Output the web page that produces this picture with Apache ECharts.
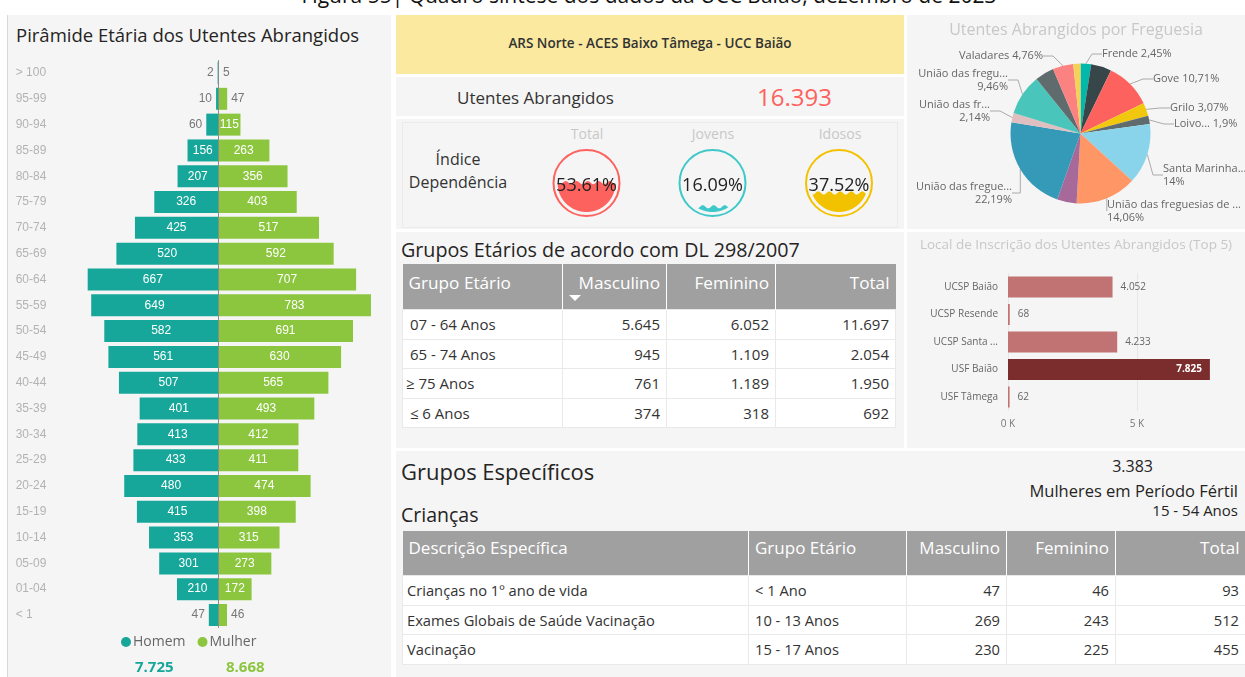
<!DOCTYPE html>
<html>
<head>
<meta charset="utf-8">
<script src="https://cdn.jsdelivr.net/npm/echarts@6/dist/echarts.min.js"></script>
<style>
body{margin:0;width:1245px;height:677px;position:relative;overflow:hidden;background:#fff;font-family:'Open Sans',sans-serif;color:#252423}
.p{position:absolute;background:#f5f5f5}
.t{position:absolute;white-space:nowrap}
.tbl{position:absolute;border-collapse:collapse;table-layout:fixed}
.tbl th{background:#a0a0a0;color:#fff;font-weight:normal;vertical-align:top;text-align:right;padding:0 6px;border-left:1px solid #fff;white-space:nowrap;overflow:hidden;position:relative}
.tbl th:first-child{text-align:left;border-left:none}
.tbl td{background:#fff;color:#333;padding:0 6px;text-align:right;border:1px solid #e9e9e9;white-space:pre;overflow:hidden}
.tbl td:first-child{text-align:left}
</style>
</head>
<body>
<!-- titulo da figura (cortado em cima) -->
<div class="t" style="left:0;width:1298px;text-align:center;top:-16px;font-size:21px;color:#111;line-height:22px">Figura 55| Quadro síntese dos dados da UCC Baião, dezembro de 2023</div>
<div style="position:absolute;left:7px;top:15px;width:1px;height:662px;background:#d8d8d8"></div>

<div class="p" style="left:8px;top:15px;width:383px;height:662px">
  <div class="t" style="left:8px;top:7px;font-size:18.5px;color:#252423">Pirâmide Etária dos Utentes Abrangidos</div>
  <div id="piramide" style="position:absolute;left:0;top:0;width:383px;height:662px"></div>
</div>

<div class="p" style="left:396px;top:15px;width:508px;height:59px;background:#fae99f">
  <div class="t" style="left:0;width:508px;text-align:center;top:19px;font-size:13.5px;font-weight:600;color:#333">ARS Norte - ACES Baixo Tâmega - UCC Baião</div>
</div>
<div class="p" style="left:396px;top:77px;width:508px;height:39px">
  <div class="t" style="left:61px;top:9px;font-size:17px;color:#333">Utentes Abrangidos</div>
  <div class="t" id="utentes" style="left:361px;top:3px;font-size:24px;color:#fd625e"></div>
</div>
<div class="p" style="left:396px;top:119px;width:508px;height:110px">
  <div style="position:absolute;left:6px;top:3px;width:494px;height:104px;border:1px solid #ebebeb"></div>
  <div class="t" style="left:0;width:124px;text-align:center;top:29px;font-size:16px;line-height:23px;color:#333">Índice<br>Dependência</div>
  <div class="t" style="left:151px;width:80px;text-align:center;top:5px;font-size:14px;color:#c8c8c8">Total</div>
  <div class="t" style="left:277px;width:80px;text-align:center;top:5px;font-size:14px;color:#c8c8c8">Jovens</div>
  <div class="t" style="left:404px;width:80px;text-align:center;top:5px;font-size:14px;color:#c8c8c8">Idosos</div>
  <div id="indice" style="position:absolute;left:0;top:0;width:508px;height:110px"></div>
</div>

<div class="p" style="left:396px;top:232px;width:508px;height:216px">
  <div class="t" style="left:5px;top:4px;font-size:19.7px;color:#252423">Grupos Etários de acordo com DL 298/2007</div>
</div>
<table class="tbl" id="tabDL" style="left:402px;top:264px;width:493px;font-size:15px"></table>

<div class="p" style="left:907px;top:15px;width:338px;height:214px">
  <div id="pie" style="position:absolute;left:0;top:0;width:338px;height:214px"></div>
</div>
<div class="p" style="left:907px;top:232px;width:338px;height:216px">
  <div id="top5" style="position:absolute;left:0;top:0;width:338px;height:216px"></div>
</div>

<div class="p" style="left:396px;top:451px;width:849px;height:226px">
  <div class="t" style="left:5px;top:5px;font-size:22px;color:#252423">Grupos Específicos</div>
  <div class="t" style="left:5px;top:50px;font-size:19.5px;color:#252423">Crianças</div>
  <div class="t" id="ferteis" style="right:92px;top:4px;font-size:16px;color:#252423"></div>
  <div class="t" style="right:7px;top:28px;font-size:16.5px;color:#252423">Mulheres em Período Fértil</div>
  <div class="t" style="right:7px;top:49px;font-size:15px;color:#252423">15 - 54 Anos</div>
</div>
<table class="tbl" id="tabCri" style="left:402px;top:531px;width:843px;font-size:14.7px"></table>

<script>
/******* dados ******************************************************/
var faixas = ['> 100','95-99','90-94','85-89','80-84','75-79','70-74','65-69','60-64','55-59','50-54',
              '45-49','40-44','35-39','30-34','25-29','20-24','15-19','10-14','05-09','01-04','< 1'];
var homens  = [2,10,60,156,207,326,425,520,667,649,582,561,507,401,413,433,480,415,353,301,210,47];
var mulheres= [5,47,115,263,356,403,517,592,707,783,691,630,565,493,412,411,474,398,315,273,172,46];

var indNomes   = ['Total','Jovens','Idosos'];
var indValores = [53.61, 16.09, 37.52];

var fregNomes = ['Frende','Sem rótulo 1','Gove','Grilo','Loivo...','Santa Marinha...','União das freguesias de ...',
                 'Sem rótulo 2','União das fregue...','União das fr...','União das fregu...','Sem rótulo 3','Valadares','Sem rótulo 4'];
var fregPct   = [2.45, 4.7, 10.71, 3.07, 1.9, 14, 14.06, 4.5, 22.19, 2.14, 9.46, 4.4, 4.76, 1.66];
var fregComRotulo = [1,0,1,1,1,1,1,0,1,1,1,0,1,0];

var locais  = ['UCSP Baião','UCSP Resende','UCSP Santa ...','USF Baião','USF Tâmega'];
var locaisN = [4052, 68, 4233, 7825, 62];

var dlGrupos = [' 07 - 64 Anos',' 65 - 74 Anos','≥ 75 Anos',' ≤ 6 Anos'];
var dlMasc   = [5645, 945, 761, 374];
var dlFem    = [6052, 1109, 1189, 318];

var criDesc  = ['Crianças no 1º ano de vida','Exames Globais de Saúde Vacinação','Vacinação'];
var criGrupo = ['< 1 Ano','10 - 13 Anos','15 - 17 Anos'];
var criMasc  = [47, 269, 230];
var criFem   = [46, 243, 225];

var mulheresFerteis = 3383;

/******* util ******************************************************/
function fmt(n){ return String(n).replace(/\B(?=(\d{3})+(?!\d))/g, '.'); }
function soma(a){ var s=0; for(var i=0;i<a.length;i++){ s+=a[i]; } return s; }

var totH = soma(homens), totM = soma(mulheres);
document.getElementById('utentes').textContent = fmt(totH + totM);
document.getElementById('ferteis').textContent = fmt(mulheresFerteis);

/******* tabelas ******************************************************/
var h = '<colgroup><col style="width:160px"><col style="width:104px"><col style="width:109px"><col style="width:120px"></colgroup>';
h += '<tr style="height:45px"><th style="padding-top:7px;font-size:17.2px">Grupo Etário</th>'
   + '<th style="padding-top:7px;font-size:17.2px">Masculino<span style="position:absolute;left:6px;top:31px;border-left:6px solid transparent;border-right:6px solid transparent;border-top:6px solid #fff"></span></th>'
   + '<th style="padding-top:7px;font-size:17.2px">Feminino</th><th style="padding-top:7px;font-size:17.2px">Total</th></tr>';
for (var i = 0; i < dlGrupos.length; i++) {
  h += '<tr style="height:' + (i % 2 ? 29 : 30) + 'px"><td style="padding-left:3px">' + dlGrupos[i] + '</td><td>' + fmt(dlMasc[i]) + '</td><td>' + fmt(dlFem[i]) + '</td><td>' + fmt(dlMasc[i] + dlFem[i]) + '</td></tr>';
}
document.getElementById('tabDL').innerHTML = h;

h = '<colgroup><col style="width:346px"><col style="width:158px"><col style="width:100px"><col style="width:109px"><col style="width:130px"></colgroup>';
h += '<tr style="height:44px"><th style="padding-top:5px;font-size:17px">Descrição Específica</th><th style="padding-top:5px;font-size:17px;text-align:left">Grupo Etário</th>'
   + '<th style="padding-top:5px;font-size:17px">Masculino</th><th style="padding-top:5px;font-size:17px">Feminino</th><th style="padding-top:5px;font-size:17px">Total</th></tr>';
for (var j = 0; j < criDesc.length; j++) {
  h += '<tr style="height:' + (j % 2 ? 29 : 30) + 'px"><td style="padding-left:4px">' + criDesc[j] + '</td><td style="text-align:left">' + criGrupo[j] + '</td><td>' + fmt(criMasc[j]) + '</td><td>' + fmt(criFem[j]) + '</td><td>' + fmt(criMasc[j] + criFem[j]) + '</td></tr>';
}
document.getElementById('tabCri').innerHTML = h;

/******* piramide ******************************************************/
var corH = '#17a79a', corM = '#8cc63f';
function barras(vals, sinal, lado) {
  var res = [];
  for (var i = 0; i < vals.length; i++) {
    var it = { value: sinal * vals[i] };
    if (vals[i] < 100) {
      it.label = { position: lado, color: '#777', distance: 4 };
    }
    res.push(it);
  }
  return res;
}
var piramide = echarts.init(document.getElementById('piramide'));
piramide.setOption({
  animation: false,
  grid: { left: 53.7, right: 16.7, top: 45.1, bottom: 49.1 },
  xAxis: { type: 'value', min: -800, max: 800, show: false },
  yAxis: {
    type: 'category', data: faixas, inverse: true,
    axisLine: { show: false }, axisTick: { show: false },
    axisLabel: { align: 'left', margin: 46, color: '#b3b3b3', fontSize: 12, fontFamily: 'Liberation Sans' }
  },
  legend: {
    left: 108, top: 615, icon: 'circle', itemWidth: 10, itemHeight: 10, itemGap: 12,
    textStyle: { color: '#666', fontSize: 14, fontFamily: 'Open Sans', padding: [0, 0, 0, -3] },
    data: ['Homem', 'Mulher']
  },
  series: [
    {
      name: 'Homem', type: 'bar', stack: 'p', barWidth: 22, itemStyle: { color: corH },
      label: { show: true, position: 'inside', color: '#fff', fontSize: 12, fontFamily: 'Liberation Sans',
               formatter: function (p) { return Math.abs(p.value); } },
      data: barras(homens, -1, 'left'),
      markLine: { silent: true, symbol: 'none', label: { show: false },
                  lineStyle: { color: '#8a8a8a', width: 1, type: 'solid' }, data: [{ xAxis: 0 }] }
    },
    {
      name: 'Mulher', type: 'bar', stack: 'p', barWidth: 22, itemStyle: { color: corM },
      label: { show: true, position: 'inside', color: '#fff', fontSize: 12, fontFamily: 'Liberation Sans' },
      data: barras(mulheres, 1, 'right')
    }
  ],
  graphic: [
    { type: 'text', left: 127, top: 645, style: { text: fmt(totH), fill: corH, font: 'bold 15px "Open Sans"' } },
    { type: 'text', left: 218, top: 645, style: { text: fmt(totM), fill: corM, font: 'bold 15px "Open Sans"' } }
  ]
});

/******* indice dependencia (liquid) ******************************************************/
var indCores = ['#fd625e', '#3fc8c9', '#f2c200'];
var indCx = [190.5, 316.5, 443];
function liquido(params, api) {
  var cs = params.coordSys;
  var r = cs.width / 2, cx = cs.x + r, cy = cs.y + cs.height / 2;
  var nivel = api.coord([0, api.value(1)])[1];
  var cor = api.visual('color');
  var pts = [];
  for (var dx = -r; dx <= r; dx += 0.5) {
    var hh = Math.sqrt(Math.max(r * r - dx * dx, 0));
    var yw = nivel + 1.6 * Math.sin((dx + r) / 11 * 2 * Math.PI);
    pts.push([cx + dx, Math.min(Math.max(yw, cy - hh), cy + hh)]);
  }
  for (var dx2 = r; dx2 >= -r; dx2 -= 0.5) {
    pts.push([cx + dx2, cy + Math.sqrt(Math.max(r * r - dx2 * dx2, 0))]);
  }
  return {
    type: 'group',
    children: [
      { type: 'circle', shape: { cx: cx, cy: cy, r: r + 4 }, style: { fill: null, stroke: cor, lineWidth: 2 } },
      { type: 'polygon', shape: { points: pts }, style: { fill: cor } },
      { type: 'text', x: cx, y: cy + 3, style: { text: api.value(1).toFixed(2) + '%', fill: '#222',
          font: '18px "Open Sans"', align: 'center', verticalAlign: 'middle' } }
    ]
  };
}
var grids = [], xs = [], ys = [], ss = [];
for (var k = 0; k < indValores.length; k++) {
  grids.push({ left: indCx[k] - 29, top: 35, width: 58, height: 58 });
  xs.push({ type: 'value', gridIndex: k, min: -1, max: 1, show: false });
  ys.push({ type: 'value', gridIndex: k, min: 8, max: 98, show: false });
  ss.push({ type: 'custom', name: indNomes[k], xAxisIndex: k, yAxisIndex: k, itemStyle: { color: indCores[k] },
            renderItem: liquido, data: [[0, indValores[k]]] });
}
var indice = echarts.init(document.getElementById('indice'));
indice.setOption({ animation: false, grid: grids, xAxis: xs, yAxis: ys, series: ss });

/******* freguesias ******************************************************/
var pieCores = ['#01b8aa','#374649','#fd625e','#f2c80f','#5f6b6d','#8ad4eb','#fe9666','#a66999','#3599b8','#dfbfbf','#4ac5bb','#5f6b6d','#fb8281','#f4d25a'];
// onde o Power BI coloca cada rotulo (x do lado do texto, y do centro)
var rotuloPos = {
  0: [195, 39, 'left'], 2: [246, 64, 'left'], 3: [263, 93, 'left'], 4: [267, 109, 'left'],
  5: [256, 160, 'left'], 6: [200, 196, 'left'], 8: [105, 178, 'right'], 9: [83, 96, 'right'],
  10: [101, 65, 'right'], 12: [136, 41, 'right']
};
var pieDados = [];
for (var q = 0; q < fregNomes.length; q++) {
  pieDados.push({
    name: fregNomes[q], value: fregPct[q],
    label: { show: !!fregComRotulo[q] }, labelLine: { show: !!fregComRotulo[q] }
  });
}
var pie = echarts.init(document.getElementById('pie'));
pie.setOption({
  animation: false,
  color: pieCores,
  title: { text: 'Utentes Abrangidos por Freguesia', left: 'center', top: 2,
           textStyle: { color: '#c8c8c8', fontSize: 16, fontWeight: 'normal', fontFamily: 'Open Sans' } },
  series: [{
    type: 'pie', center: [173.5, 118.5], radius: 70, startAngle: 90,
    itemStyle: { borderColor: '#f5f5f5', borderWidth: 0 },
    label: {
      color: '#666', fontSize: 11, fontFamily: 'Open Sans', lineHeight: 13, overflow: 'none',
      formatter: function (p) {
        var pct = String(p.value).replace('.', ',') + '%';
        return p.name.length > 12 ? p.name + '\n' + pct : p.name + ' ' + pct;
      }
    },
    labelLine: { length: 6, length2: 10, lineStyle: { color: '#aaa' } },
    labelLayout: function (p) {
      var pos = rotuloPos[p.dataIndex];
      if (!pos) return {};
      return { x: pos[0], y: pos[1], align: pos[2], verticalAlign: 'middle' };
    },
    data: pieDados
  }]
});

/******* top 5 ******************************************************/
var barDados = [];
for (var b = 0; b < locais.length; b++) {
  var destaque = locaisN[b] === Math.max.apply(null, locaisN);
  barDados.push({
    value: locaisN[b],
    itemStyle: { color: destaque ? '#7b2c2c' : '#c07372' },
    label: destaque ? { position: 'insideRight', color: '#fff', fontWeight: 'bold' } : {}
  });
}
var top5 = echarts.init(document.getElementById('top5'));
top5.setOption({
  animation: false,
  title: { text: 'Local de Inscrição dos Utentes Abrangidos (Top 5)', left: 'center', top: 1,
           textStyle: { color: '#c8c8c8', fontSize: 13.5, fontWeight: 'normal', fontFamily: 'Open Sans' } },
  grid: { left: 101, right: 30.6, top: 41.25, bottom: 37.25 },
  xAxis: {
    type: 'value', min: 0, max: 8000, interval: 5000,
    axisLine: { show: false }, axisTick: { show: false },
    splitLine: { showMaxLine: false, lineStyle: { color: '#e6e6e6' } },
    axisLabel: { showMaxLabel: false, color: '#777', fontSize: 10, margin: 8, fontFamily: 'Open Sans',
                 formatter: function (v) { return (v / 1000) + ' K'; } }
  },
  yAxis: {
    type: 'category', data: locais, inverse: true,
    axisLine: { show: false }, axisTick: { show: false },
    axisLabel: { color: '#666', fontSize: 10, margin: 10, fontFamily: 'Open Sans' }
  },
  series: [{
    type: 'bar', barWidth: 21, data: barDados,
    label: { show: true, position: 'right', color: '#666', fontSize: 10, distance: 8, fontFamily: 'Open Sans',
             formatter: function (p) { return fmt(p.value); } }
  }]
});
</script>
</body>
</html>
